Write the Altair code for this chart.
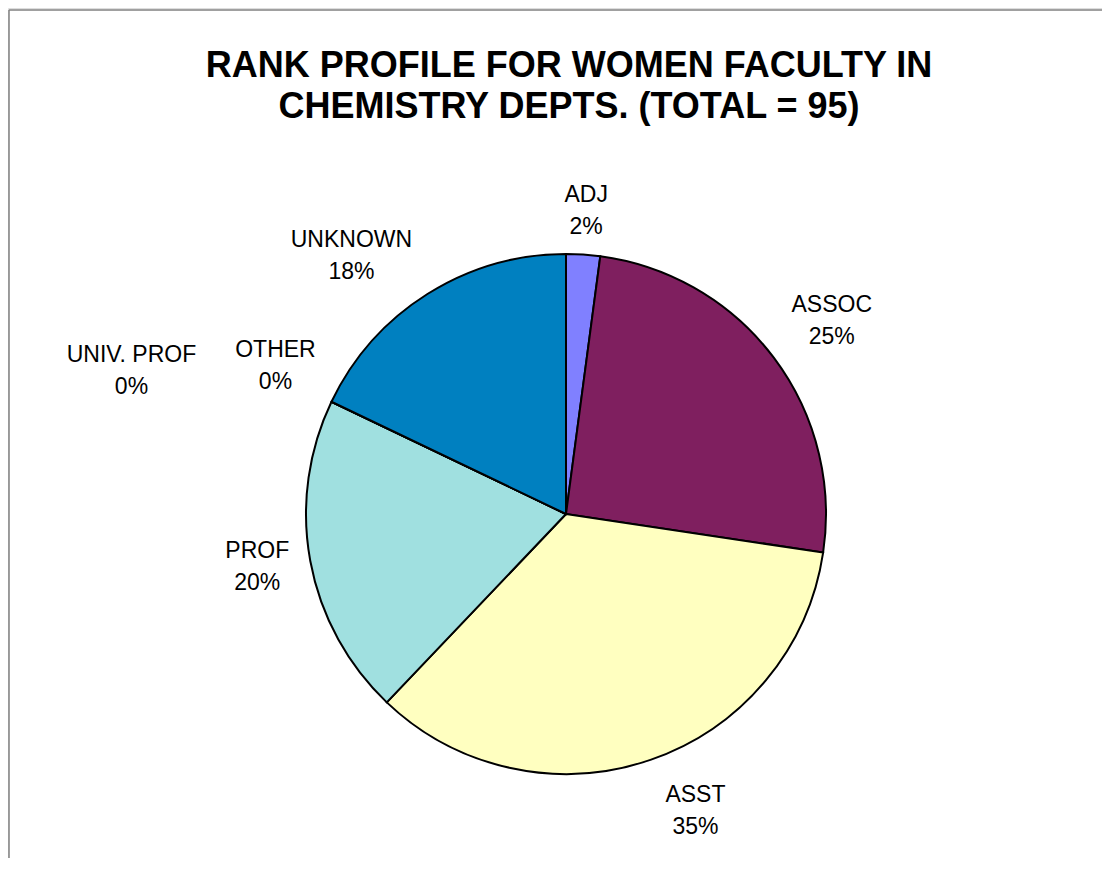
import altair as alt
import pandas as pd

# ---- data ----
ranks = ["ADJ", "ASSOC", "ASST", "PROF", "OTHER", "UNIV. PROF", "UNKNOWN"]
counts = [2, 24, 33, 19, 0, 0, 17]
slice_colors = ["#8080FF", "#7F1F5F", "#FFFFC0", "#A0E0E0", "#C0C0C0", "#C0C0C0", "#0080C0"]
title_lines = ["RANK PROFILE FOR WOMEN FACULTY IN", "CHEMISTRY DEPTS. (TOTAL = 95)"]

# ---- layout (label nudges from each slice's rim point, in px) ----
label_dx = [3, 58, 45, -53, -56, -200, -76]
label_dy = [-60, -53, 35, -10, -52, -47, -54]

W, H = 1094, 850
CX, CY, R = 558, 506, 260

df = pd.DataFrame({
    "rank": ranks,
    "count": counts,
    "order": list(range(len(ranks))),
    "ldx": label_dx,
    "ldy": label_dy,
})

base = alt.Chart(df)

pie = base.mark_arc(radius=R, stroke="black", strokeWidth=2).encode(
    theta=alt.Theta("count:Q", stack=True),
    color=alt.Color("rank:N", scale=alt.Scale(domain=ranks, range=slice_colors), legend=None),
    order=alt.Order("order:Q"),
    x=alt.value(CX),
    y=alt.value(CY),
)

labels = base.transform_window(
    cum="sum(count)", sort=[alt.SortField("order")], frame=[None, 0]
).transform_joinaggregate(
    total="sum(count)"
).transform_calculate(
    ang="2*PI*(datum.cum - datum.count/2)/datum.total",
).transform_calculate(
    px=f"{CX} + {R}*sin(datum.ang) + datum.ldx",
    py=f"{CY} - {R}*cos(datum.ang) + datum.ldy",
    label="datum.rank + '\\n' + format(datum.count/datum.total, '.0%')",
).mark_text(
    lineBreak="\n", font="Liberation Sans", fontSize=23, lineHeight=32,
    align="center", baseline="middle", color="black",
).encode(
    x=alt.X("px:Q", scale=None, axis=None),
    y=alt.Y("py:Q", scale=None, axis=None),
    text="label:N",
)

title = alt.Chart(alt.Data(values=[{"t": "\n".join(title_lines)}])).mark_text(
    lineBreak="\n", font="Liberation Sans", fontSize=36, fontWeight="bold",
    lineHeight=41, align="center", baseline="alphabetic", color="black",
).encode(x=alt.value(561), y=alt.value(69), text="t:N")

one = alt.Data(values=[{}])
left_border = alt.Chart(one).mark_rule(color="#808080", strokeWidth=1.5).encode(
    x=alt.value(1), y=alt.value(2), y2=alt.value(H)
)
top_border = alt.Chart(one).mark_rule(color="#808080", strokeWidth=1.5).encode(
    x=alt.value(1), x2=alt.value(W), y=alt.value(2)
)

chart = alt.layer(left_border, top_border, pie, labels, title).properties(
    width=W,
    height=H,
    autosize=alt.AutoSizeParams(type="none"),
    padding=0,
).configure_view(stroke=None).configure(background="white")

chart.save("out.html", embed_options={"renderer": "svg", "actions": False})
